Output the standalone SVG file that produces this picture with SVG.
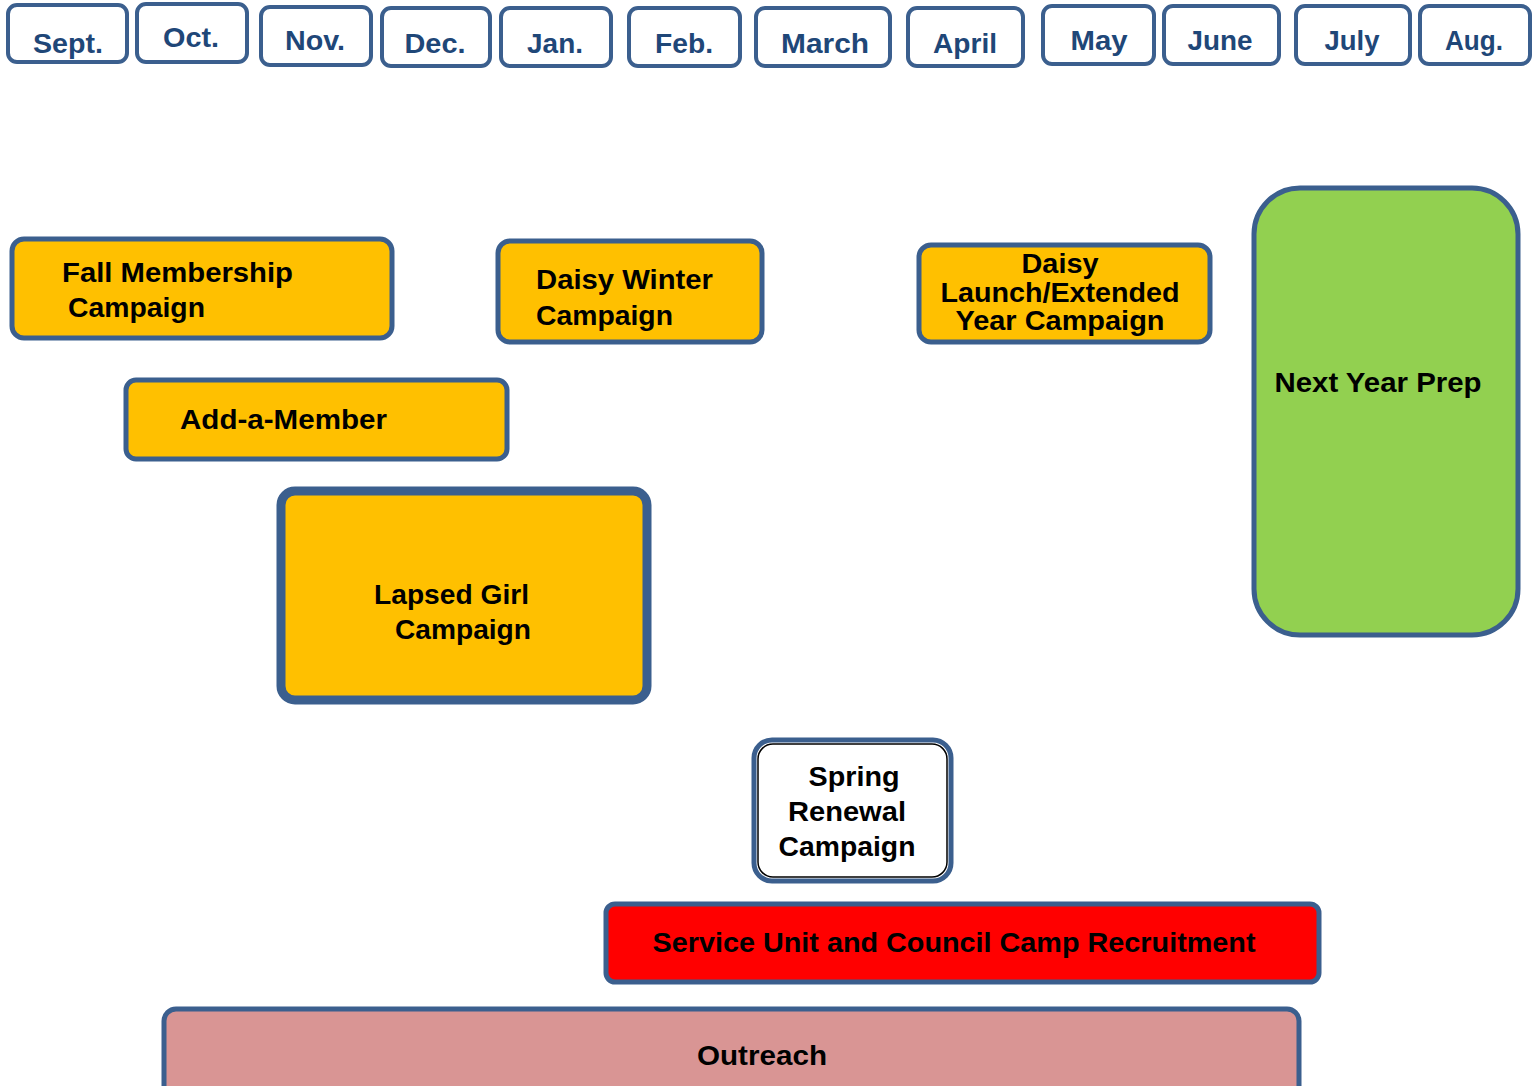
<svg xmlns="http://www.w3.org/2000/svg" width="1540" height="1086" viewBox="0 0 1540 1086">
<style>
.m rect{fill:#fff;stroke:#3B5F8E;stroke-width:4}
.m text{font-family:"Liberation Sans",Arial,sans-serif;font-weight:bold;font-size:28px;fill:#1F4778;text-anchor:middle}
.n rect{stroke:#3B5F8E;stroke-width:5}
.t{font-family:"Liberation Sans",Arial,sans-serif;font-weight:bold;font-size:28px;fill:#000}
.c{text-anchor:middle}
</style>
<rect width="1540" height="1086" fill="#fff"/>
<g id="months">
<g id="m-sept" class="m"><rect x="8" y="5" width="119" height="57" rx="9"/><text x="68" y="53" textLength="70" lengthAdjust="spacingAndGlyphs">Sept.</text></g>
<g id="m-oct" class="m"><rect x="137" y="4" width="110" height="58" rx="9"/><text x="191" y="47" textLength="56" lengthAdjust="spacingAndGlyphs">Oct.</text></g>
<g id="m-nov" class="m"><rect x="261" y="7" width="110" height="58" rx="9"/><text x="315" y="50" textLength="60" lengthAdjust="spacingAndGlyphs">Nov.</text></g>
<g id="m-dec" class="m"><rect x="382" y="8" width="108" height="58" rx="9"/><text x="435" y="53" textLength="61" lengthAdjust="spacingAndGlyphs">Dec.</text></g>
<g id="m-jan" class="m"><rect x="501" y="8" width="110" height="58" rx="9"/><text x="555" y="53" textLength="56" lengthAdjust="spacingAndGlyphs">Jan.</text></g>
<g id="m-feb" class="m"><rect x="629" y="8" width="111" height="58" rx="9"/><text x="684" y="53" textLength="58" lengthAdjust="spacingAndGlyphs">Feb.</text></g>
<g id="m-mar" class="m"><rect x="756" y="8" width="134" height="58" rx="9"/><text x="825" y="53" textLength="88" lengthAdjust="spacingAndGlyphs">March</text></g>
<g id="m-apr" class="m"><rect x="908" y="8" width="115" height="58" rx="9"/><text x="965" y="53" textLength="64" lengthAdjust="spacingAndGlyphs">April</text></g>
<g id="m-may" class="m"><rect x="1043" y="6" width="111" height="58" rx="9"/><text x="1099" y="50" textLength="57" lengthAdjust="spacingAndGlyphs">May</text></g>
<g id="m-jun" class="m"><rect x="1164" y="6" width="115" height="58" rx="9"/><text x="1220" y="50" textLength="65" lengthAdjust="spacingAndGlyphs">June</text></g>
<g id="m-jul" class="m"><rect x="1296" y="6" width="114" height="58" rx="9"/><text x="1352" y="50" textLength="55" lengthAdjust="spacingAndGlyphs">July</text></g>
<g id="m-aug" class="m"><rect x="1420" y="6" width="110" height="58" rx="9"/><text x="1474" y="50" textLength="58" lengthAdjust="spacingAndGlyphs">Aug.</text></g>
</g>
<g id="connectors"></g>
<g id="fall" class="n"><rect x="12" y="239" width="380" height="99" rx="12" fill="#FFC000"/><text class="t" x="62" y="282" textLength="231" lengthAdjust="spacingAndGlyphs">Fall Membership</text><text class="t" x="68" y="317" textLength="137" lengthAdjust="spacingAndGlyphs">Campaign</text></g>
<g id="daisy-winter" class="n"><rect x="498" y="241" width="264" height="101" rx="12" fill="#FFC000"/><text class="t" x="536" y="289" textLength="177" lengthAdjust="spacingAndGlyphs">Daisy Winter</text><text class="t" x="536" y="325" textLength="137" lengthAdjust="spacingAndGlyphs">Campaign</text></g>
<g id="daisy-launch" class="n"><rect x="919" y="245" width="291" height="97" rx="12" fill="#FFC000"/><text class="t c" x="1060" y="273" textLength="77" lengthAdjust="spacingAndGlyphs">Daisy</text><text class="t c" x="1060" y="302" textLength="239" lengthAdjust="spacingAndGlyphs">Launch/Extended</text><text class="t c" x="1060" y="330" textLength="209" lengthAdjust="spacingAndGlyphs">Year Campaign</text></g>
<g id="next-year" class="n"><rect x="1254" y="188" width="264" height="447" rx="46" fill="#92D050"/><text class="t c" x="1378" y="392" textLength="207" lengthAdjust="spacingAndGlyphs">Next Year Prep</text></g>
<g id="add-member" class="n"><rect x="126" y="380" width="381" height="79" rx="10" fill="#FFC000"/><text class="t" x="180" y="429" textLength="207" lengthAdjust="spacingAndGlyphs">Add-a-Member</text></g>
<g id="lapsed" class="n"><rect x="281" y="491" width="366" height="209" rx="14" fill="#FFC000" style="stroke-width:9"/><text class="t" x="374" y="604" textLength="155" lengthAdjust="spacingAndGlyphs">Lapsed Girl</text><text class="t" x="395" y="639" textLength="136" lengthAdjust="spacingAndGlyphs">Campaign</text></g>
<g id="spring" class="n"><rect x="754" y="740" width="197" height="141" rx="18" fill="#fff" style="stroke-width:5"/><rect x="758" y="744" width="189" height="133" rx="15" fill="none" style="stroke:#000;stroke-width:1.5"/><text class="t c" x="854" y="786" textLength="91" lengthAdjust="spacingAndGlyphs">Spring</text><text class="t c" x="847" y="821" textLength="118" lengthAdjust="spacingAndGlyphs">Renewal</text><text class="t c" x="847" y="856" textLength="137" lengthAdjust="spacingAndGlyphs">Campaign</text></g>
<g id="camp" class="n"><rect x="606" y="904" width="713" height="78" rx="9" fill="#FF0000"/><text class="t c" x="954" y="952" textLength="603" lengthAdjust="spacingAndGlyphs">Service Unit and Council Camp Recruitment</text></g>
<g id="outreach" class="n"><rect x="164" y="1009" width="1135" height="90" rx="12" fill="#D99594"/><text class="t c" x="762" y="1065" textLength="130" lengthAdjust="spacingAndGlyphs">Outreach</text></g>
</svg>
